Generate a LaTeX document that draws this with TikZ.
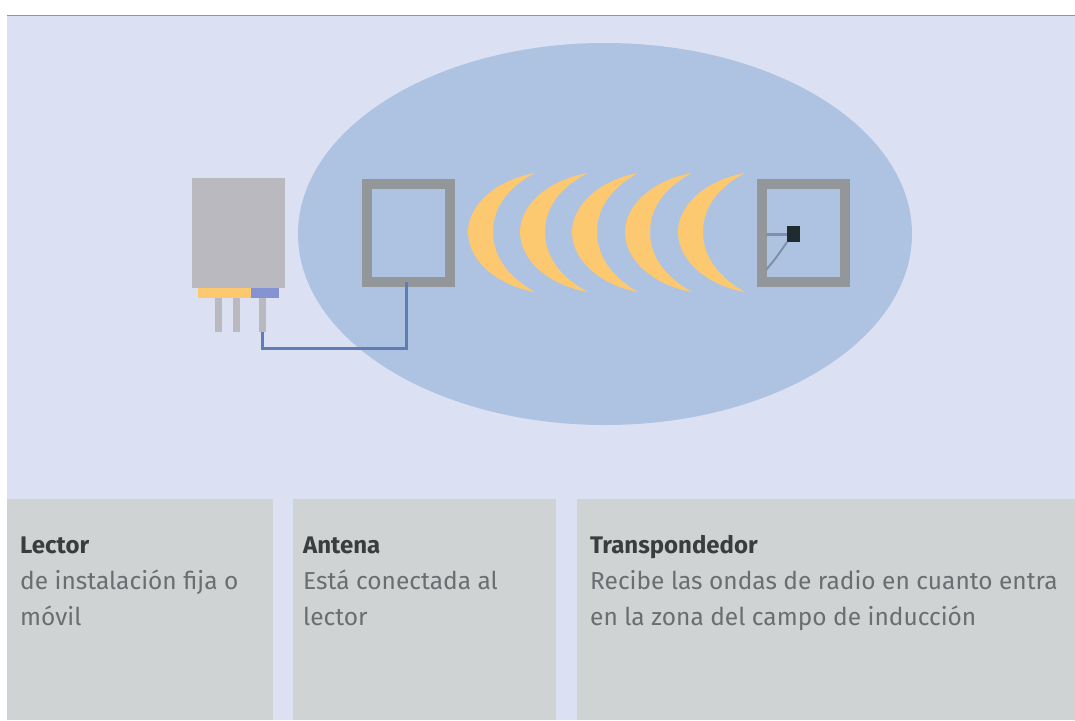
\documentclass[tikz,border=0pt]{standalone}
\usepackage{fontspec}
\setmainfont{Fira Sans}
\definecolor{fondo}{HTML}{DBE1F3}
\definecolor{campo}{HTML}{AEC3E2}
\definecolor{panel}{HTML}{CFD3D3}
\definecolor{caja}{HTML}{B9B9BF}
\definecolor{marco}{HTML}{949799}
\definecolor{onda}{HTML}{FCC970}
\definecolor{puerto}{HTML}{8593D3}
\definecolor{filete}{HTML}{7F93CC}
\definecolor{cable}{HTML}{5F7CB4}
\definecolor{hilo}{HTML}{8090A8}
\definecolor{negro}{HTML}{1F2B2F}
\definecolor{titulo}{HTML}{3A3C3E}
\definecolor{texto}{HTML}{6A6E70}
\newcommand{\cabeza}[1]{\textcolor{titulo}{\fontsize{24}{36}\selectfont\textbf{#1}}}
\tikzset{
  bloque/.style={anchor=north west,inner sep=0pt,outer sep=0pt},
  rotulo/.style={anchor=north west,inner sep=0pt,align=left,text=texto,font=\fontsize{24.5}{36}\selectfont},
  bobina/.style={bloque,draw=marco,line width=10pt,minimum width=83pt,minimum height=98pt}
}
\begin{document}
\begin{tikzpicture}[x=1pt,y=-1pt]
  \useasboundingbox (0,0) rectangle (1075,720);
  \fill[fondo] (7,15) rectangle (1075,720);
  \draw[line width=1.5pt,color=filete] (7,15.5) -- (1075,15.5);
  \fill[campo] (605,234) ellipse [x radius=307,y radius=191];

  % lector
  \node[bloque,fill=caja,minimum width=93pt,minimum height=110pt] (lector) at (192,178) {};
  \node[bloque,fill=onda,minimum width=53pt,minimum height=10pt] (ranura) at (198,288) {};
  \node[bloque,fill=puerto,minimum width=28pt,minimum height=10pt] (puerto) at (251,288) {};
  \foreach \x/\i in {215/a,233/b,259/c} {
    \node[bloque,fill=caja,minimum width=7pt,minimum height=34pt] (pata\i) at (\x,298) {};}

  % antena y transpondedor
  \node[bobina] (antena) at (367,184) {};
  \node[bobina] (transp) at (762,184) {};
  \coordinate (codo) at (406,348);
  \draw[line width=3pt,cable] (patac.south) |- (codo) -- (codo |- antena.south);

  % ondas
  \foreach \l/\t in {468/535,520/588,572/638,625/692,678/745} {
    \fill[onda] (\t,173) .. controls (\l+28,180) and (\l,205) .. (\l,232)
      .. controls (\l,260) and (\l+28,285) .. (\t,292)
      .. controls (\l+42,278) and (\l+25,258) .. (\l+25,232)
      .. controls (\l+25,206) and (\l+42,186) .. (\t,173) -- cycle;}

  % chip
  \node[bloque,fill=negro,minimum width=13pt,minimum height=16pt] (chip) at (787,226) {};
  \coordinate (hiloa) at (766,234);
  \coordinate (hilob) at (766,270);
  \draw[line width=3pt,hilo] (hiloa) -- (chip.west);
  \draw[line width=2pt,hilo] (hilob) .. controls (776,258) .. (chip.south west);

  % rotulos
  \node[bloque,fill=panel,minimum width=266pt,minimum height=221pt] (panela) at (7,499) {};
  \node[bloque,fill=panel,minimum width=263pt,minimum height=221pt] (panelb) at (293,499) {};
  \node[bloque,fill=panel,minimum width=498pt,minimum height=221pt] (panelc) at (577,499) {};
  \node[rotulo] (txta) at (20,537) {\cabeza{Lector}\\de instalación fija o\\móvil};
  \node[rotulo] (txtb) at (303,537) {\cabeza{Antena}\\Está conectada al\\lector};
  \node[rotulo] (txtc) at (590,535) {\cabeza{Transpondedor}\\Recibe las ondas de radio en cuanto entra\\en la zona del campo de inducción};
\end{tikzpicture}
\end{document}
